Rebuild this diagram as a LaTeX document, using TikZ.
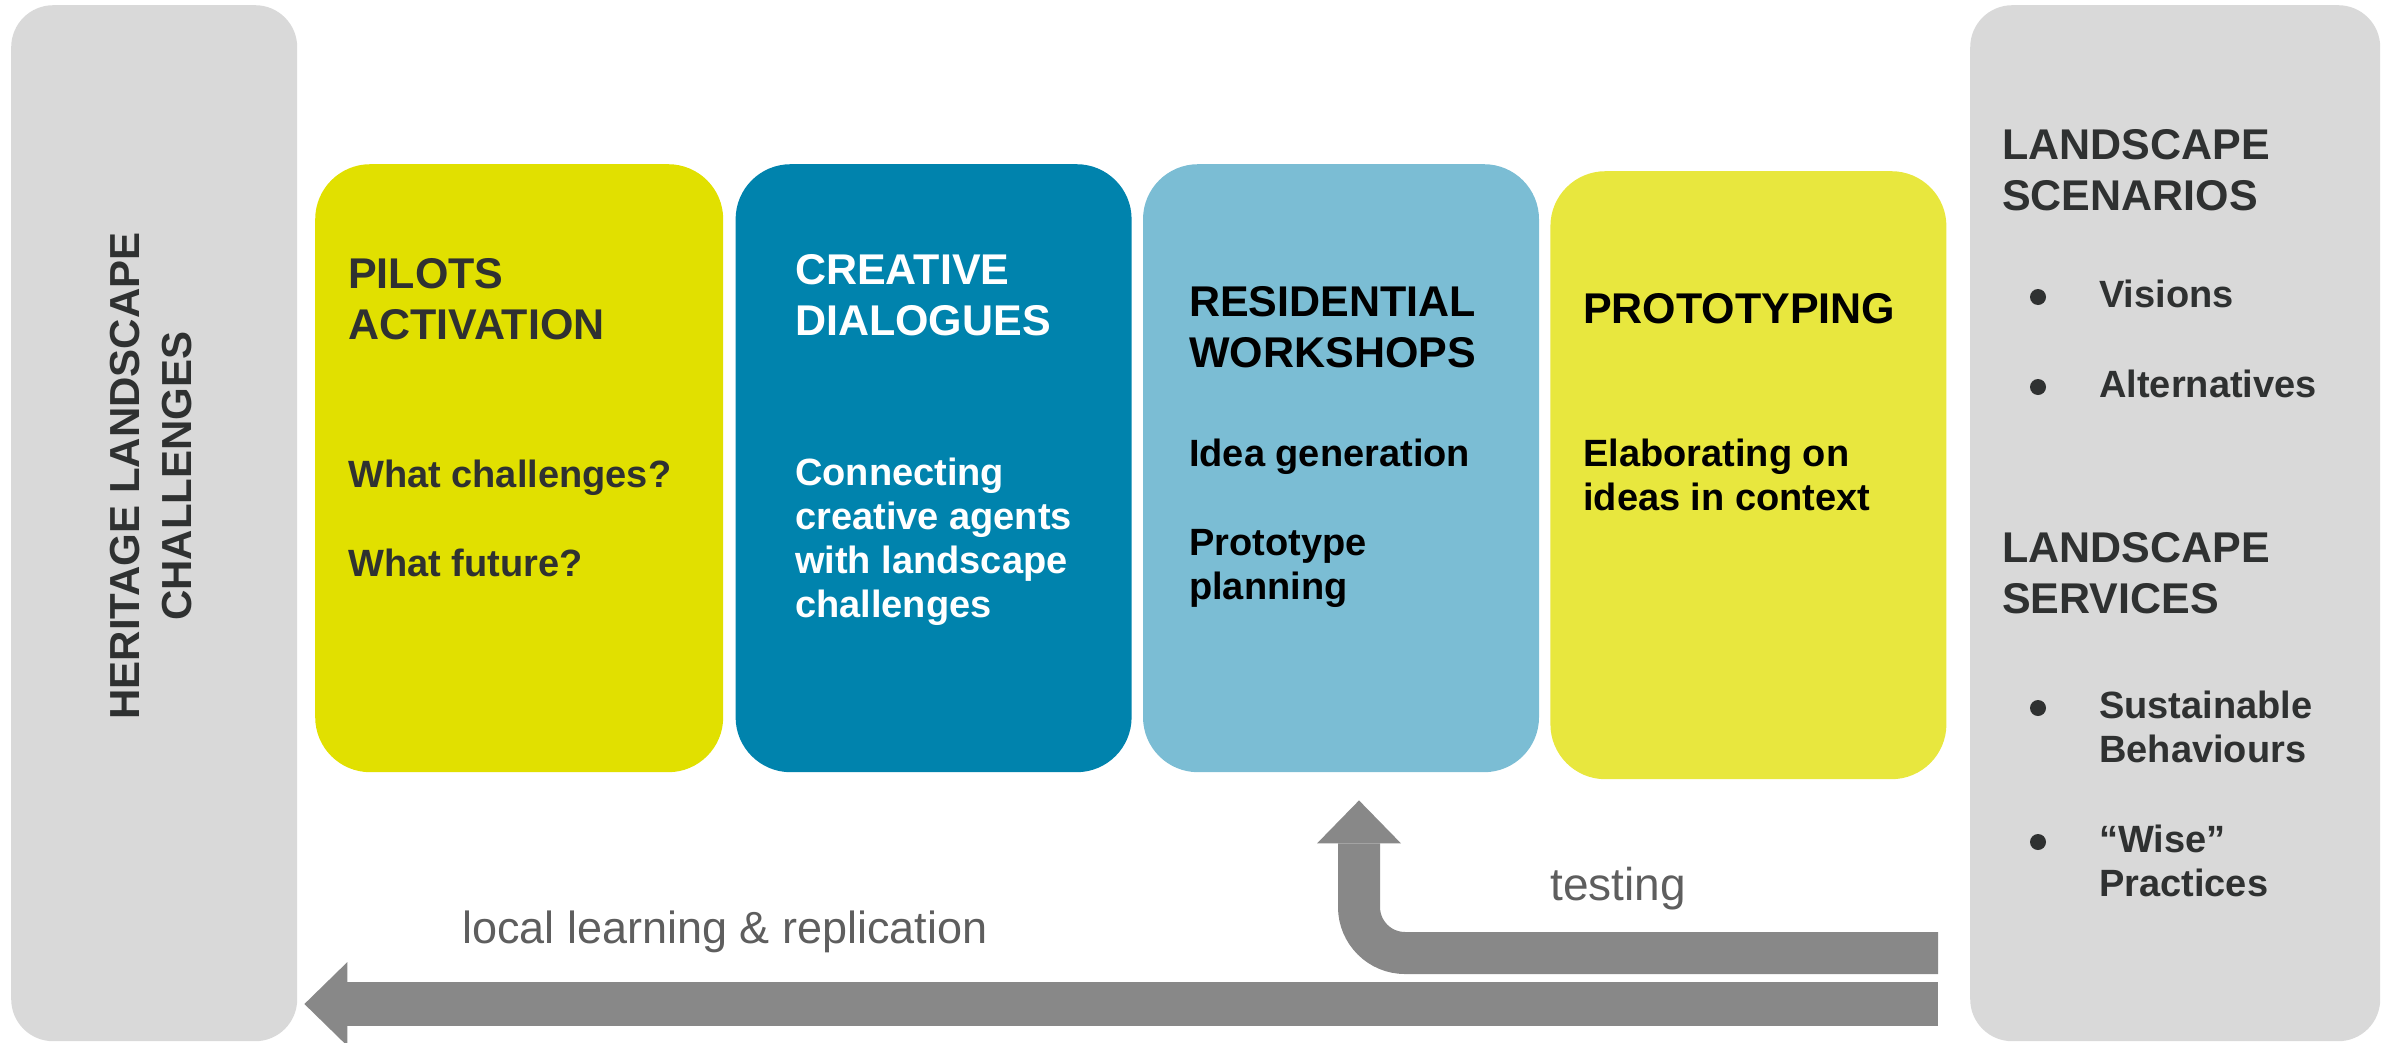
\documentclass[tikz,border=0pt]{standalone}
\usepackage{fontspec}
\setmainfont{Liberation Sans}
\usepackage{tikz}
\usetikzlibrary{arrows.meta,positioning}

\definecolor{panelgray}{HTML}{D9D9D9}
\definecolor{pilotyellow}{HTML}{E1E000}
\definecolor{dialogblue}{HTML}{0083AD}
\definecolor{workshopblue}{HTML}{7BBDD4}
\definecolor{protoyellow}{HTML}{E8E73E}
\definecolor{inkgray}{HTML}{2F3131}
\definecolor{arrowgray}{HTML}{888888}
\definecolor{labelgray}{HTML}{5E5E5E}

\begin{document}
\begin{tikzpicture}[x=1pt, y=-1pt,
		panel/.style={fill=panelgray, rounded corners=42pt, minimum height=1036pt, anchor=north west, inner sep=0pt},
		stage/.style={rounded corners=55pt, minimum width=396pt, minimum height=608pt, inner sep=0pt},
		head/.style={font=\bfseries\fontsize{43}{51}\selectfont, anchor=base west, align=left, inner sep=0pt},
		body/.style={font=\bfseries\fontsize{38}{44}\selectfont, anchor=base west, align=left, inner sep=0pt},
		dot/.style={circle, fill=inkgray, inner sep=0pt, minimum size=16pt},
		flow/.style={draw=arrowgray, line width=44pt, -{Triangle[length=43pt, width=84pt, line width=0pt]}},
		flowlabel/.style={font=\fontsize{45}{54}\selectfont, text=labelgray, anchor=base west, inner sep=0pt}]
		\useasboundingbox (0,0) rectangle (2397,1042);
		
		\node[panel, minimum width=286pt] (heritage) at (11,5) {};
		\node[panel, minimum width=410pt] (outcomes) at (1970,5) {};
		
		\node[stage, fill=pilotyellow, minimum width=408pt, anchor=north west] (pilots) at (315,164) {};
		\node[stage, fill=dialogblue, right=12pt of pilots] (dialogues) {};
		\node[stage, fill=workshopblue, right=11pt of dialogues] (workshops) {};
		\node[stage, fill=protoyellow, right=11pt of workshops, yshift=-7pt] (prototyping) {};
		
		\node[font=\bfseries\fontsize{42}{52}\selectfont, text=inkgray, rotate=90, anchor=base, align=center, inner sep=0pt] (heritagetitle) at (191,476) {HERITAGE LANDSCAPE\\CHALLENGES};
		
		\node[head, text=inkgray] (pilotshead) at (348,339) {PILOTS\\ACTIVATION};
		\node[body, text=inkgray] (pilotsbody) at (348,576) {What challenges?\\[45pt]What future?};
		
		\node[head, text=white] (dialogueshead) at (795,335) {CREATIVE\\DIALOGUES};
		\node[body, text=white] (dialoguesbody) at (795,617) {Connecting\\creative agents\\with landscape\\challenges};
		
		\node[head, text=black] (workshopshead) at (1189,367) {RESIDENTIAL\\WORKSHOPS};
		\node[body, text=black] (workshopsbody) at (1189,599) {Idea generation\\[45pt]Prototype\\planning};
		
		\node[head, text=black] (prototypinghead) at (1583,323) {PROTOTYPING};
		\node[body, text=black] (prototypingbody) at (1583,510) {Elaborating on\\ideas in context};
		
		\node[head, text=inkgray] (scenarios) at (2002,210) {LANDSCAPE\\SCENARIOS};
		\node[body, text=inkgray] (visions) at (2099,307) {Visions};
		\node[body, text=inkgray] (alternatives) at (2099,397) {Alternatives};
		\node[head, text=inkgray] (services) at (2002,613) {LANDSCAPE\\SERVICES};
		\node[body, text=inkgray] (behaviours) at (2099,762) {Sustainable\\Behaviours};
		\node[body, text=inkgray] (practices) at (2099,896) {“Wise”\\Practices};
		
		\foreach \item/\up in {visions/10, alternatives/10, behaviours/54, practices/54}
			\node[dot] (\item dot) at ([xshift=-61pt, yshift=\up pt]\item.base west) {};
		
		\coordinate (learnstart) at (1938,1004);
		\coordinate (teststart) at (1938,953);
		
		\draw[flow, shorten >=7pt] (learnstart) -- (heritage.east |- learnstart);
		\draw[flow, line width=42pt, rounded corners=46pt, shorten >=28pt] (teststart) -| ([xshift=18pt]workshops.south);
		
		\node[flowlabel] (learnlabel) at (462,943) {local learning \& replication};
		\node[flowlabel, font=\fontsize{46}{54}\selectfont] (testlabel) at (1550,900) {testing};
		
	\end{tikzpicture}
\end{document}
